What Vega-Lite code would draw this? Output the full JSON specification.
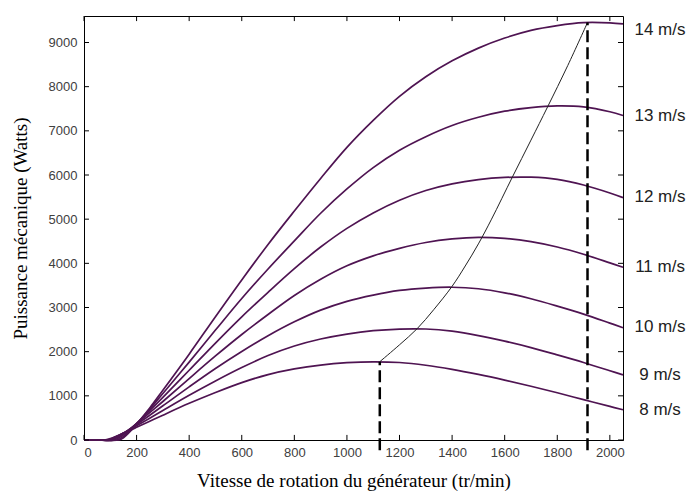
{
"$schema": "https://vega.github.io/schema/vega-lite/v6.json",
"width": 539, "height": 424,
"autosize": {"type": "none"},
"padding": {"left": 84, "top": 16, "right": 68, "bottom": 57},
"background": "white",
"config": {
  "view": {"stroke": "black", "strokeWidth": 1},
  "axis": {"domainColor": "black", "domainWidth": 1, "ticks": false, "labelFont": "Liberation Sans", "labelFontSize": 13, "labelColor": "#404040", "grid": false, "format": "d", "titleFont": "Liberation Serif", "titleFontSize": 19, "titleFontWeight": "normal", "titleColor": "black"}
},
"datasets": {
"curves": [
{"v":"8","w":0,"p":0},{"v":"8","w":50,"p":0},{"v":"8","w":76,"p":0},{"v":"8","w":100,"p":35},{"v":"8","w":150,"p":155},{"v":"8","w":200,"p":287},{"v":"8","w":250,"p":424},{"v":"8","w":300,"p":562},{"v":"8","w":400,"p":830},{"v":"8","w":500,"p":1076},{"v":"8","w":600,"p":1300},{"v":"8","w":700,"p":1481},{"v":"8","w":800,"p":1609},{"v":"8","w":900,"p":1697},{"v":"8","w":1000,"p":1750},{"v":"8","w":1100,"p":1771},{"v":"8","w":1200,"p":1755},{"v":"8","w":1300,"p":1693},{"v":"8","w":1400,"p":1599},{"v":"8","w":1500,"p":1484},{"v":"8","w":1600,"p":1356},{"v":"8","w":1700,"p":1218},{"v":"8","w":1800,"p":1069},{"v":"8","w":1900,"p":914},{"v":"8","w":2000,"p":760},{"v":"8","w":2050,"p":685},
{"v":"9","w":0,"p":0},{"v":"9","w":50,"p":0},{"v":"9","w":86,"p":0},{"v":"9","w":100,"p":18},{"v":"9","w":150,"p":158},{"v":"9","w":200,"p":324},{"v":"9","w":250,"p":493},{"v":"9","w":300,"p":668},{"v":"9","w":400,"p":1013},{"v":"9","w":500,"p":1337},{"v":"9","w":600,"p":1641},{"v":"9","w":700,"p":1912},{"v":"9","w":800,"p":2128},{"v":"9","w":900,"p":2286},{"v":"9","w":1000,"p":2398},{"v":"9","w":1100,"p":2475},{"v":"9","w":1200,"p":2512},{"v":"9","w":1300,"p":2513},{"v":"9","w":1400,"p":2463},{"v":"9","w":1500,"p":2365},{"v":"9","w":1600,"p":2237},{"v":"9","w":1700,"p":2092},{"v":"9","w":1800,"p":1928},{"v":"9","w":1900,"p":1756},{"v":"9","w":2000,"p":1569},{"v":"9","w":2050,"p":1474},
{"v":"10","w":0,"p":0},{"v":"10","w":50,"p":0},{"v":"10","w":95,"p":0},{"v":"10","w":100,"p":7},{"v":"10","w":150,"p":157},{"v":"10","w":200,"p":353},{"v":"10","w":250,"p":561},{"v":"10","w":300,"p":774},{"v":"10","w":400,"p":1204},{"v":"10","w":500,"p":1619},{"v":"10","w":600,"p":2004},{"v":"10","w":700,"p":2360},{"v":"10","w":800,"p":2675},{"v":"10","w":900,"p":2940},{"v":"10","w":1000,"p":3140},{"v":"10","w":1100,"p":3282},{"v":"10","w":1200,"p":3386},{"v":"10","w":1300,"p":3440},{"v":"10","w":1400,"p":3459},{"v":"10","w":1500,"p":3425},{"v":"10","w":1600,"p":3332},{"v":"10","w":1700,"p":3197},{"v":"10","w":1800,"p":3031},{"v":"10","w":1900,"p":2851},{"v":"10","w":2000,"p":2647},{"v":"10","w":2050,"p":2543},
{"v":"11","w":0,"p":0},{"v":"11","w":50,"p":0},{"v":"11","w":105,"p":0},{"v":"11","w":150,"p":142},{"v":"11","w":200,"p":370},{"v":"11","w":250,"p":618},{"v":"11","w":300,"p":872},{"v":"11","w":400,"p":1392},{"v":"11","w":500,"p":1903},{"v":"11","w":600,"p":2389},{"v":"11","w":700,"p":2842},{"v":"11","w":800,"p":3272},{"v":"11","w":900,"p":3640},{"v":"11","w":1000,"p":3945},{"v":"11","w":1100,"p":4170},{"v":"11","w":1200,"p":4340},{"v":"11","w":1300,"p":4471},{"v":"11","w":1400,"p":4552},{"v":"11","w":1500,"p":4589},{"v":"11","w":1600,"p":4565},{"v":"11","w":1700,"p":4492},{"v":"11","w":1800,"p":4370},{"v":"11","w":1900,"p":4205},{"v":"11","w":2000,"p":4010},{"v":"11","w":2050,"p":3910},
{"v":"12","w":0,"p":0},{"v":"12","w":50,"p":0},{"v":"12","w":114,"p":0},{"v":"12","w":150,"p":119},{"v":"12","w":200,"p":374},{"v":"12","w":250,"p":667},{"v":"12","w":300,"p":966},{"v":"12","w":400,"p":1579},{"v":"12","w":500,"p":2195},{"v":"12","w":600,"p":2789},{"v":"12","w":700,"p":3345},{"v":"12","w":800,"p":3881},{"v":"12","w":900,"p":4369},{"v":"12","w":1000,"p":4792},{"v":"12","w":1100,"p":5142},{"v":"12","w":1200,"p":5430},{"v":"12","w":1300,"p":5650},{"v":"12","w":1400,"p":5800},{"v":"12","w":1500,"p":5895},{"v":"12","w":1600,"p":5945},{"v":"12","w":1700,"p":5950},{"v":"12","w":1800,"p":5900},{"v":"12","w":1900,"p":5774},{"v":"12","w":2000,"p":5593},{"v":"12","w":2050,"p":5487},
{"v":"13","w":0,"p":0},{"v":"13","w":50,"p":0},{"v":"13","w":124,"p":0},{"v":"13","w":150,"p":81},{"v":"13","w":200,"p":371},{"v":"13","w":250,"p":702},{"v":"13","w":300,"p":1054},{"v":"13","w":400,"p":1764},{"v":"13","w":500,"p":2489},{"v":"13","w":600,"p":3204},{"v":"13","w":700,"p":3872},{"v":"13","w":800,"p":4508},{"v":"13","w":900,"p":5134},{"v":"13","w":1000,"p":5684},{"v":"13","w":1100,"p":6168},{"v":"13","w":1200,"p":6561},{"v":"13","w":1300,"p":6868},{"v":"13","w":1400,"p":7121},{"v":"13","w":1500,"p":7307},{"v":"13","w":1600,"p":7445},{"v":"13","w":1700,"p":7526},{"v":"13","w":1800,"p":7563},{"v":"13","w":1900,"p":7541},{"v":"13","w":2000,"p":7432},{"v":"13","w":2050,"p":7348},
{"v":"14","w":0,"p":0},{"v":"14","w":50,"p":0},{"v":"14","w":134,"p":0},{"v":"14","w":150,"p":52},{"v":"14","w":200,"p":354},{"v":"14","w":250,"p":726},{"v":"14","w":300,"p":1127},{"v":"14","w":400,"p":1944},{"v":"14","w":500,"p":2791},{"v":"14","w":600,"p":3623},{"v":"14","w":700,"p":4427},{"v":"14","w":800,"p":5184},{"v":"14","w":900,"p":5922},{"v":"14","w":1000,"p":6626},{"v":"14","w":1100,"p":7237},{"v":"14","w":1200,"p":7781},{"v":"14","w":1300,"p":8225},{"v":"14","w":1400,"p":8585},{"v":"14","w":1500,"p":8873},{"v":"14","w":1600,"p":9101},{"v":"14","w":1700,"p":9275},{"v":"14","w":1800,"p":9384},{"v":"14","w":1900,"p":9451},{"v":"14","w":2000,"p":9445},{"v":"14","w":2050,"p":9421}
],
"mppt": [
{"w":1125,"p":1773},{"w":1200,"p":2155},{"w":1267,"p":2520},{"w":1330,"p":2950},{"w":1400,"p":3480},{"w":1450,"p":3940},{"w":1500,"p":4440},{"w":1550,"p":5000},{"w":1629,"p":5950},{"w":1700,"p":6790},{"w":1763,"p":7540},{"w":1840,"p":8480},{"w":1915,"p":9452}
],
"dash": [
{"w":1125,"p0":-230,"p1":1773},{"w":1915,"p0":-230,"p1":9452}
],
"labels": [
{"lab":"14 m/s","w":2050,"p":9283},{"lab":"13 m/s","w":2050,"p":7337},{"lab":"12 m/s","w":2050,"p":5502},{"lab":"11 m/s","w":2050,"p":3924},{"lab":"10 m/s","w":2050,"p":2566},{"lab":"9 m/s","w":2050,"p":1471},{"lab":"8 m/s","w":2050,"p":679}
],
"xt": [{"t":0},{"t":200},{"t":400},{"t":600},{"t":800},{"t":1000},{"t":1200},{"t":1400},{"t":1600},{"t":1800},{"t":2000}],
"yt": [{"t":0},{"t":1000},{"t":2000},{"t":3000},{"t":4000},{"t":5000},{"t":6000},{"t":7000},{"t":8000},{"t":9000}]
},
"layer": [
{
 "data": {"name": "curves"},
 "mark": {"type": "line", "interpolate": "catmull-rom", "color": "#4f1452", "strokeWidth": 1.7},
 "encoding": {
  "x": {"field": "w", "type": "quantitative", "scale": {"domain": [0, 2050], "nice": false, "zero": false},
        "axis": {"values": [0,200,400,600,800,1000,1200,1400,1600,1800,2000], "labelPadding": 6, "title": "Vitesse de rotation du générateur (tr/min)", "titlePadding": 12}},
  "y": {"field": "p", "type": "quantitative", "scale": {"domain": [0, 9600], "nice": false},
        "axis": {"values": [0,1000,2000,3000,4000,5000,6000,7000,8000,9000], "labelPadding": 7, "title": "Puissance mécanique (Watts)", "titlePadding": 18}},
  "detail": {"field": "v", "type": "nominal"}
 }
},
{
 "data": {"name": "mppt"},
 "mark": {"type": "line", "interpolate": "catmull-rom", "color": "#222222", "strokeWidth": 1},
 "encoding": {
  "x": {"field": "w", "type": "quantitative", "scale": {"domain": [0, 2050], "nice": false, "zero": false}, "axis": null},
  "y": {"field": "p", "type": "quantitative", "scale": {"domain": [0, 9600], "nice": false}, "axis": null}
 }
},
{
 "data": {"name": "dash"},
 "mark": {"type": "rule", "strokeDash": [12, 5], "strokeWidth": 2.5, "color": "black", "clip": false},
 "encoding": {
  "x": {"field": "w", "type": "quantitative", "scale": {"domain": [0, 2050], "nice": false, "zero": false}, "axis": null},
  "y": {"field": "p0", "type": "quantitative", "scale": {"domain": [0, 9600], "nice": false}, "axis": null},
  "y2": {"field": "p1"}
 }
},
{
 "mark": {"type": "rule", "color": "black", "strokeWidth": 1.3, "clip": false},
 "encoding": {
  "x": {"datum": 1600, "type": "quantitative", "scale": {"domain": [0, 2050], "nice": false, "zero": false}, "axis": null},
  "y": {"datum": 0, "type": "quantitative", "scale": {"domain": [0, 9600], "nice": false}, "axis": null},
  "y2": {"datum": 9740}
 }
},
{
 "data": {"name": "xt"},
 "mark": {"type": "rule", "color": "black", "strokeWidth": 1},
 "encoding": {
  "x": {"field": "t", "type": "quantitative", "scale": {"domain": [0, 2050], "nice": false, "zero": false}, "axis": null},
  "y": {"datum": 0, "type": "quantitative", "scale": {"domain": [0, 9600], "nice": false}, "axis": null},
  "y2": {"datum": 115}
 }
},
{
 "data": {"name": "xt"},
 "mark": {"type": "rule", "color": "black", "strokeWidth": 1},
 "encoding": {
  "x": {"field": "t", "type": "quantitative", "scale": {"domain": [0, 2050], "nice": false, "zero": false}, "axis": null},
  "y": {"datum": 9485, "type": "quantitative", "scale": {"domain": [0, 9600], "nice": false}, "axis": null},
  "y2": {"datum": 9600}
 }
},
{
 "data": {"name": "yt"},
 "mark": {"type": "rule", "color": "black", "strokeWidth": 1},
 "encoding": {
  "y": {"field": "t", "type": "quantitative", "scale": {"domain": [0, 9600], "nice": false}, "axis": null},
  "x": {"datum": 0, "type": "quantitative", "scale": {"domain": [0, 2050], "nice": false, "zero": false}, "axis": null},
  "x2": {"datum": 19}
 }
},
{
 "data": {"name": "yt"},
 "mark": {"type": "rule", "color": "black", "strokeWidth": 1},
 "encoding": {
  "y": {"field": "t", "type": "quantitative", "scale": {"domain": [0, 9600], "nice": false}, "axis": null},
  "x": {"datum": 2031, "type": "quantitative", "scale": {"domain": [0, 2050], "nice": false, "zero": false}, "axis": null},
  "x2": {"datum": 2050}
 }
},
{
 "data": {"name": "labels"},
 "mark": {"type": "text", "align": "center", "baseline": "middle", "dx": 37, "font": "Liberation Sans", "fontSize": 17, "color": "#222222"},
 "encoding": {
  "x": {"field": "w", "type": "quantitative", "scale": {"domain": [0, 2050], "nice": false, "zero": false}, "axis": null},
  "y": {"field": "p", "type": "quantitative", "scale": {"domain": [0, 9600], "nice": false}, "axis": null},
  "text": {"field": "lab"}
 }
}
],
"resolve": {"axis": {"x": "independent", "y": "independent"}}
}
